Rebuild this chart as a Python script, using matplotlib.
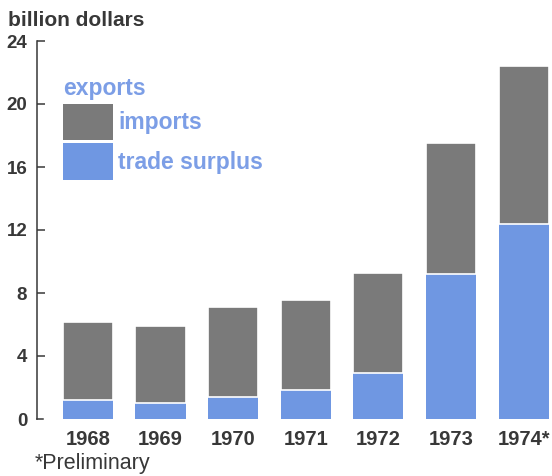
import matplotlib.pyplot as plt
import matplotlib.patches as patches
import numpy as np

plt.rcParams['font.family'] = ['Liberation Sans', 'DejaVu Sans']

# data (billion dollars)
years = ['1968', '1969', '1970', '1971', '1972', '1973', '1974*']
exports = [6.15, 5.9, 7.1, 7.55, 9.3, 17.5, 22.4]
surplus = [1.2, 1.0, 1.4, 1.85, 2.9, 9.2, 12.4]
imports = [e - s for e, s in zip(exports, surplus)]
yticks = [0, 4, 8, 12, 16, 20, 24]

gray = '#7a7a7a'
blue = '#6f97e2'
textblue = '#7c9ee6'
dark = '#383838'

fig = plt.figure(figsize=(5.52, 4.76), dpi=100)
W, H = 552.0, 476.0
# axes placed in pixels: spine at x=37, y 0 at 419px, 24 at 41px (from top)
ax = fig.add_axes([37 / W, (H - 419) / H, (552 - 37) / W, (419 - 41) / H])

x = np.arange(len(years))
ax.bar(x, surplus, width=0.69, color=blue, linewidth=0)
ax.bar(x, imports, width=0.69, bottom=surplus, color=gray,
       edgecolor='white', linewidth=1.2)

ax.set_xlim(-0.70, 6.39)
ax.set_ylim(0, 24)
ax.set_yticks(yticks)
ax.set_xticks(x)
ax.set_xticklabels(years)

for s in ['top', 'right', 'bottom']:
    ax.spines[s].set_visible(False)
ax.spines['left'].set_color(dark)
ax.spines['left'].set_linewidth(1.1)
ax.tick_params(axis='y', direction='in', length=6, width=1.1, color=dark,
               pad=7, labelsize=13.5, labelcolor=dark)
ax.tick_params(axis='x', length=0, pad=8, labelsize=14.5, labelcolor=dark)
for lab in ax.get_xticklabels() + ax.get_yticklabels():
    lab.set_fontweight('bold')
ax.yaxis.get_majorticklines()[0].set_visible(False)
# the L-shaped bottom at 0
ax.plot([0, 0.012], [0, 0], transform=ax.transAxes, color=dark, lw=1.1,
        clip_on=False)

# legend boxes
ax.add_patch(patches.Rectangle((-0.345, 17.7), 0.69, 2.3, color=gray, lw=0))
ax.add_patch(patches.Rectangle((-0.345, 15.2), 0.69, 2.35, color=blue, lw=0))
ax.text(-0.345, 21.0, 'exports', color=textblue, fontsize=16.5,
        fontweight='bold', va='center')
ax.text(0.42, 18.8, 'imports', color=textblue, fontsize=16.5,
        fontweight='bold', va='center')
ax.text(0.42, 16.3, 'trade surplus', color=textblue, fontsize=16.5,
        fontweight='bold', va='center')

fig.text(8 / W, 1 - 26 / H, 'billion dollars', fontsize=15,
         fontweight='bold', color=dark, va='baseline')
fig.text(35 / W, 1 - 469 / H, '*Preliminary', fontsize=15.5, color=dark,
         va='baseline')

fig.savefig('out.png', dpi=100)
